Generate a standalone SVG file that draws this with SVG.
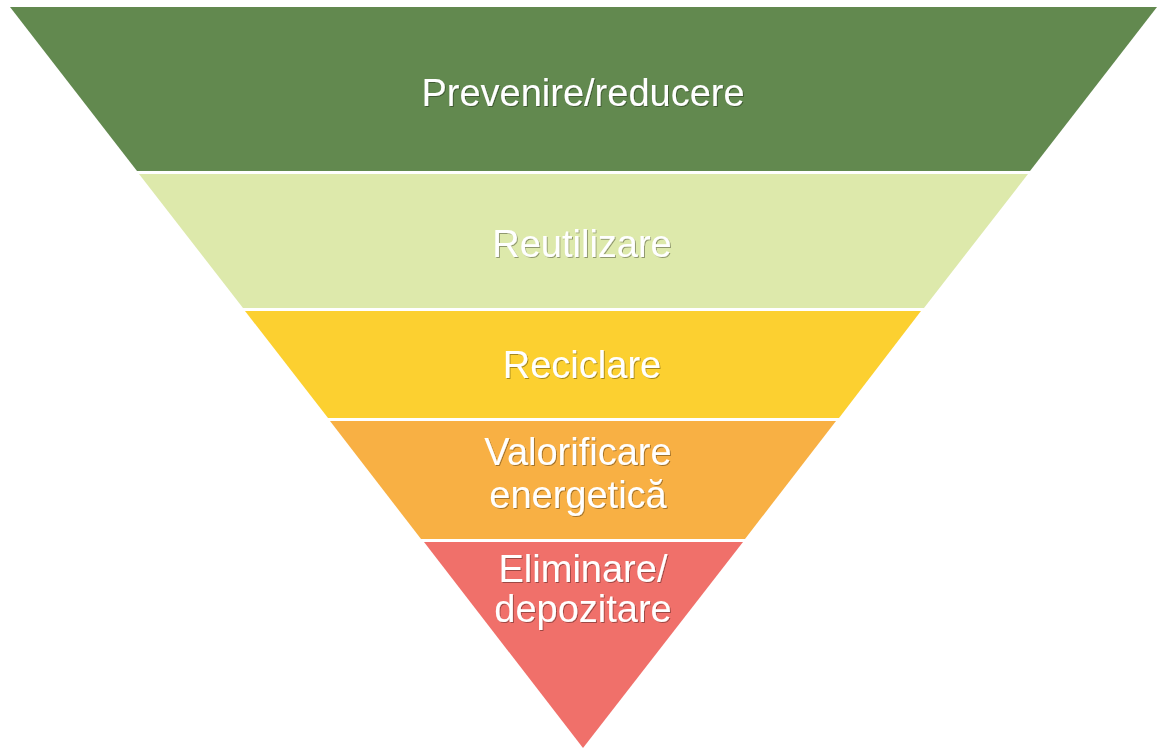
<svg xmlns="http://www.w3.org/2000/svg" width="1159" height="749" viewBox="0 0 1159 749">
<defs>
<style>
.lbl{font-family:"Liberation Sans",Arial,sans-serif;font-size:38px;fill:#ffffff;text-anchor:middle;filter:url(#sh)}
</style>
<filter id="sh" x="-10%" y="-30%" width="120%" height="160%">
<feDropShadow dx="1" dy="1" stdDeviation="0.6" flood-color="#000000" flood-opacity="0.35"/>
</filter>
</defs>
<rect width="1159" height="749" fill="#ffffff"/>
<g id="prevenire">
<polygon points="10,7 1157,7 1030,171 137,171" fill="#62894f"/>
<text class="lbl" x="583" y="106">Prevenire/reducere</text>
</g>
<g id="reutilizare">
<polygon points="139,174 1028,174 924,308 243,308" fill="#dde9ab"/>
<text class="lbl" x="582" y="257">Reutilizare</text>
</g>
<g id="reciclare">
<polygon points="245,311 921,311 839,418 328,418" fill="#fcd030"/>
<text class="lbl" x="582" y="378">Reciclare</text>
</g>
<g id="valorificare">
<polygon points="330,421 836,421 745,539 421,539" fill="#f8b044"/>
<text class="lbl" x="578" y="465">Valorificare</text>
<text class="lbl" x="578" y="508">energetică</text>
</g>
<g id="eliminare">
<polygon points="424,542 743,542 583,748" fill="#f0706a"/>
<text class="lbl" x="583" y="582">Eliminare/</text>
<text class="lbl" x="583" y="622">depozitare</text>
</g>
<g id="connectors"></g>
</svg>
